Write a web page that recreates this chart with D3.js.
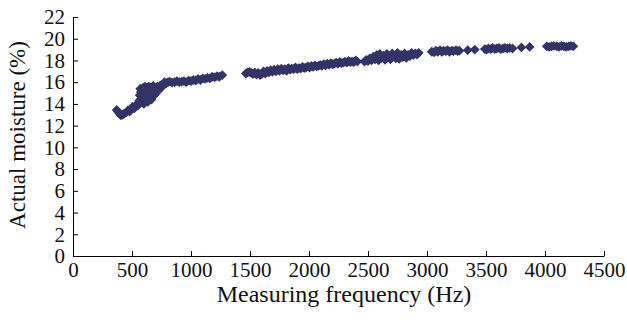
<!DOCTYPE html>
<html>
<head>
<meta charset="utf-8">
<script src="https://cdn.jsdelivr.net/npm/d3@7"></script>
<style>
  body { margin: 0; background: #fff; }
  text { font-family: 'Liberation Serif', 'Times New Roman', serif; fill: #111; }
</style>
</head>
<body>
<div id="chart"></div>
<script>
const frequency = [
  370, 380, 395, 405, 420, 435, 450, 465, 480, 495, 505, 520, 535, 545, 555,
  560, 565, 570, 575, 580, 590, 595, 600, 605, 610, 615, 620, 630, 635, 640,
  645, 655, 660, 665, 675, 680, 690, 700, 705, 715, 720, 730, 740, 750, 760,
  775, 790, 805, 820, 840, 860, 880, 900, 920, 940, 960, 980, 1000, 1020, 1040,
  1060, 1080, 1100, 1120, 1140, 1160, 1180, 1200, 1220, 1240, 1265,
  1465, 1480, 1495, 1510, 1525, 1540, 1555, 1570, 1585, 1600, 1615, 1630, 1645,
  1660, 1675, 1690, 1705, 1720, 1735, 1750, 1765, 1780, 1795, 1810, 1825, 1840,
  1855, 1870, 1885, 1900, 1915, 1930, 1945, 1960, 1975, 1990, 2005, 2020, 2035,
  2050, 2065, 2080, 2095, 2110, 2125, 2140, 2155, 2170, 2185, 2200, 2215, 2230,
  2245, 2260, 2275, 2290, 2305, 2320, 2335, 2350, 2365, 2380, 2395, 2410,
  2470, 2485, 2500, 2515, 2530, 2545, 2560, 2575, 2590, 2600, 2615, 2630, 2645,
  2660, 2675, 2690, 2705, 2720, 2735, 2750, 2765, 2780, 2795, 2810, 2825, 2840,
  2855, 2870, 2885, 2900, 2915, 2930,
  3040, 3060, 3075, 3090, 3110, 3125, 3140, 3160, 3175, 3190, 3210, 3225, 3245,
  3260, 3275, 3345, 3405, 3490, 3505, 3520, 3540, 3555, 3575, 3590, 3610, 3625,
  3645, 3660, 3680, 3700, 3725, 3800, 3870,
  4015, 4035, 4055, 4075, 4100, 4120, 4140, 4160, 4180, 4200, 4220, 4240
];
const moisture = [
  13.45, 13.3, 13.1, 12.95, 13.0, 13.1, 13.2, 13.4, 13.3, 13.5, 13.75, 13.6, 13.8, 14.0, 13.9,
  14.3, 14.8, 15.4, 15.1, 14.2, 14.6, 15.5, 14.0, 15.0, 15.6, 14.4, 14.9, 15.3, 14.2, 15.6,
  14.7, 15.0, 15.5, 14.4, 15.2, 15.65, 14.8, 15.4, 15.0, 15.6, 15.2, 15.45, 15.7, 15.5, 15.8,
  16.0, 15.9, 16.0, 16.05, 15.95, 16.0, 16.1, 16.0, 16.05, 16.1, 16.0, 16.15, 16.1, 16.2, 16.15,
  16.3, 16.2, 16.35, 16.3, 16.4, 16.35, 16.5, 16.45, 16.55, 16.5, 16.65,
  16.8, 16.9, 16.95, 16.85, 16.75, 16.9, 16.7, 16.85, 16.65, 16.75, 17.0, 16.8, 17.05,
  16.9, 17.1, 16.95, 17.15, 17.0, 17.2, 17.05, 17.25, 17.1, 17.2, 17.05, 17.3, 17.15,
  17.25, 17.2, 17.35, 17.2, 17.3, 17.25, 17.4, 17.3, 17.35, 17.45, 17.35, 17.5, 17.4,
  17.55, 17.45, 17.5, 17.6, 17.5, 17.65, 17.55, 17.7, 17.6, 17.75, 17.65, 17.7, 17.8,
  17.7, 17.85, 17.75, 17.8, 17.9, 17.8, 17.95, 17.85, 17.9, 17.85, 18.0, 17.9,
  17.9, 18.05, 17.95, 18.2, 18.0, 18.35, 18.1, 18.5, 18.0, 18.6, 18.25, 18.45, 18.05,
  18.6, 18.3, 18.1, 18.65, 18.4, 18.2, 18.7, 18.15, 18.5, 18.3, 18.65, 18.25, 18.5,
  18.4, 18.7, 18.5, 18.65, 18.55, 18.7,
  18.8, 18.75, 18.9, 18.8, 18.95, 18.8, 18.9, 18.85, 18.95, 18.8, 18.9, 18.85, 18.95,
  18.85, 18.9, 18.95, 19.0, 19.05, 19.0, 19.1, 19.05, 19.15, 19.05, 19.1, 19.15, 19.05,
  19.1, 19.15, 19.1, 19.15, 19.1, 19.2, 19.25,
  19.3, 19.25, 19.3, 19.35, 19.3, 19.25, 19.35, 19.3, 19.25, 19.3, 19.35, 19.3
];
const xTicks = [0, 500, 1000, 1500, 2000, 2500, 3000, 3500, 4000, 4500];
const yTicks = [0, 2, 4, 6, 8, 10, 12, 14, 16, 18, 20, 22];

const width = 627, height = 326;
const svg = d3.select('#chart').append('svg')
  .attr('width', width)
  .attr('height', height);

svg.append('rect').attr('width', width).attr('height', height).attr('fill', '#fff');

const x = d3.scaleLinear().domain([0, 4500]).range([73, 604]);
const y = d3.scaleLinear().domain([0, 22]).range([256, 17]);

// axes, ticks pointing into the plot like the Excel original
const xAxis = svg.append('g')
  .attr('transform', 'translate(0,256)')
  .call(d3.axisBottom(x).tickValues(xTicks).tickFormat(d3.format('d'))
    .tickSizeInner(-5).tickSizeOuter(0).tickPadding(6));

const yAxis = svg.append('g')
  .attr('transform', 'translate(73,0)')
  .call(d3.axisLeft(y).tickValues(yTicks).tickFormat(d3.format('d'))
    .tickSizeInner(-5).tickSizeOuter(0).tickPadding(8));

[xAxis, yAxis].forEach(g => {
  g.selectAll('path, line').attr('stroke', '#000').attr('stroke-width', 1);
  g.selectAll('text').attr('font-size', 21).attr('font-family', null).attr('fill', '#111');
});

// data points as diamonds
const diamond = d3.symbol().type(d3.symbolSquare).size(48);
svg.append('g')
  .selectAll('path')
  .data(frequency)
  .join('path')
  .attr('d', diamond)
  .attr('transform', (f, i) => `translate(${x(f)},${y(moisture[i])}) rotate(45)`)
  .attr('fill', '#333366');

// axis titles
svg.append('text')
  .attr('x', 344)
  .attr('y', 302)
  .attr('text-anchor', 'middle')
  .attr('font-size', 24)
  .text('Measuring frequency (Hz)');

svg.append('text')
  .attr('transform', 'translate(25,135) rotate(-90)')
  .attr('text-anchor', 'middle')
  .attr('font-size', 23)
  .text('Actual moisture (%)');
</script>
</body>
</html>
